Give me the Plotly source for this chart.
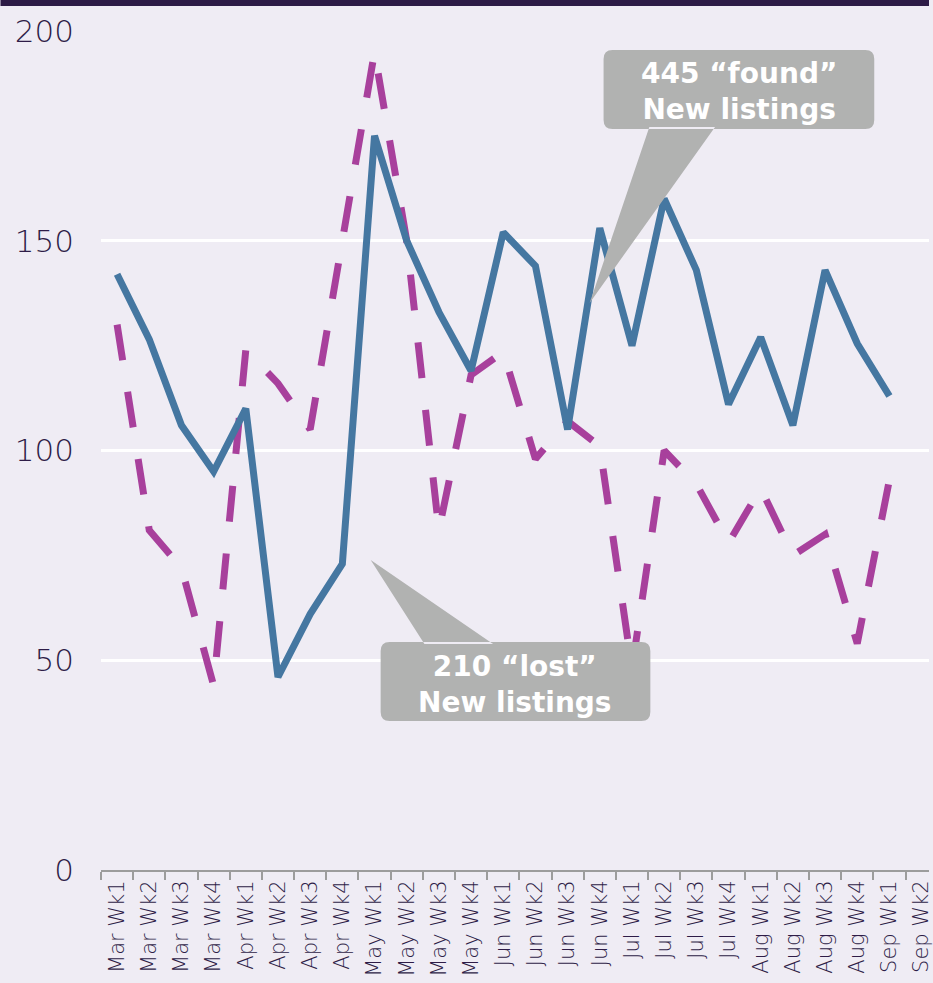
import plotly.graph_objects as go


weeks = ["Mar Wk1", "Mar Wk2", "Mar Wk3", "Mar Wk4",
         "Apr Wk1", "Apr Wk2", "Apr Wk3", "Apr Wk4",
         "May Wk1", "May Wk2", "May Wk3", "May Wk4",
         "Jun Wk1", "Jun Wk2", "Jun Wk3", "Jun Wk4",
         "Jul Wk1", "Jul Wk2", "Jul Wk3", "Jul Wk4",
         "Aug Wk1", "Aug Wk2", "Aug Wk3", "Aug Wk4",
         "Sep Wk1", "Sep Wk2"]

# solid blue series
found_listings = [142, 126.5, 106, 95, 110, 46, 61, 73,
                  175, 150, 133, 119, 152, 144, 105, 153,
                  125, 160, 143, 111, 127, 106, 143, 125.5,
                  113, None]

# dashed magenta series
lost_listings = [130, 81, 72, 44, 124, 116, 105, 150,
                 195, 150, 81, 118, 123.5, 98, 107, 101,
                 48, 100, 92, 78, 91, 75, 80, 54,
                 93, None]

y_ticks = [0, 50, 100, 150, 200]

callout_found = "445 \u201cfound\u201d<br>New listings"
callout_lost = "210 \u201clost\u201d<br>New listings"


W, H = 933, 983
M_L, M_R, M_T, M_B = 101, 0, 31, 113
PLOT_W = W - M_L - M_R
PLOT_H = H - M_T - M_B

TEXT = "#2e1c47"
BLUE = "#4577a1"
MAGENTA = "#a8409c"
CALLOUT = "#b1b2b1"
BG = "#efecf4"
FONT = "DejaVu Sans"


# pixel -> paper coordinates (only used for the decoration shapes)
def px(x):
    return (x - M_L) / PLOT_W


def py(y):
    return (H - M_B - y) / PLOT_H


# rounded box with a pointer triangle on one side
def callout_path(x0, y0, x1, y1, tip, base_a, base_b, r=9):
    pts = []
    pts.append(f"M {px(x0 + r)},{py(y0)}")
    pts.append(f"L {px(x1 - r)},{py(y0)}")
    pts.append(f"Q {px(x1)},{py(y0)} {px(x1)},{py(y0 + r)}")
    pts.append(f"L {px(x1)},{py(y1 - r)}")
    pts.append(f"Q {px(x1)},{py(y1)} {px(x1 - r)},{py(y1)}")
    pts.append(f"L {px(x0 + r)},{py(y1)}")
    pts.append(f"Q {px(x0)},{py(y1)} {px(x0)},{py(y1 - r)}")
    pts.append(f"L {px(x0)},{py(y0 + r)}")
    pts.append(f"Q {px(x0)},{py(y0)} {px(x0 + r)},{py(y0)}")
    pts.append("Z")
    # pointer
    pts.append(f"M {px(base_a[0])},{py(base_a[1])}")
    pts.append(f"L {px(tip[0])},{py(tip[1])}")
    pts.append(f"L {px(base_b[0])},{py(base_b[1])}")
    pts.append("Z")
    return " ".join(pts)


fig = go.Figure()

fig.add_trace(go.Scatter(x=weeks, y=lost_listings, mode="lines",
                         name="Lost",
                         line=dict(color=MAGENTA, width=7, dash="36px,32px")))
fig.add_trace(go.Scatter(x=weeks, y=found_listings, mode="lines",
                         name="Found",
                         line=dict(color=BLUE, width=7)))

shapes = [
    # dark band along the top
    dict(type="rect", xref="paper", yref="paper",
         x0=px(0), x1=px(W), y0=py(6), y1=py(-2),
         fillcolor="#2d1b46", line_width=0, layer="above"),
    dict(type="path", xref="paper", yref="paper",
         path=callout_path(606, 50, 878, 129, tip=(592, 303),
                           base_a=(652, 127), base_b=(718, 127)),
         fillcolor=CALLOUT, line_width=0, layer="above"),
    dict(type="path", xref="paper", yref="paper",
         path=callout_path(382, 642, 653, 721, tip=(372, 560),
                           base_a=(426, 644), base_b=(495, 644)),
         fillcolor=CALLOUT, line_width=0, layer="above"),
]

annotations = [
    dict(text=callout_found, xref="paper", yref="paper",
         x=px(742), y=py(91), xanchor="center", yanchor="middle",
         showarrow=False, align="center",
         font=dict(family=FONT, size=28, color="white", weight="bold")),
    dict(text=callout_lost, xref="paper", yref="paper",
         x=px(517), y=py(684), xanchor="center", yanchor="middle",
         showarrow=False, align="center",
         font=dict(family=FONT, size=28, color="white", weight="bold")),
]

fig.update_layout(
    width=W, height=H,
    margin=dict(l=M_L, r=M_R, t=M_T, b=M_B, pad=0),
    paper_bgcolor=BG, plot_bgcolor=BG,
    showlegend=False,
    shapes=shapes,
    annotations=annotations,
    font=dict(family=FONT, color=TEXT),
)

fig.update_xaxes(
    type="category",
    categoryorder="array", categoryarray=weeks,
    range=[-0.5, 25.23],
    showgrid=False,
    showline=True, linecolor="#9c9c9c", linewidth=2,
    ticks="outside", tickson="boundaries", ticklen=8,
    tickcolor="#9c9c9c", tickwidth=1.5,
    tickangle=-90,
    tickfont=dict(family=FONT, size=21, color=TEXT, weight=300),
    zeroline=False,
)

fig.update_yaxes(
    range=[0, 200],
    tickvals=y_ticks,
    showgrid=True, gridcolor="white", gridwidth=2.5,
    showline=False, zeroline=False,
    ticks="", ticklabelstandoff=26,
    tickfont=dict(family=FONT, size=31, color=TEXT, weight=300),
)

# drop the default page margin so the figure sits at the window corner
fig.write_html("out.html",
               config={"displayModeBar": False},
               post_script="document.body.style.margin='0';"
                           "document.body.style.background='%s';" % BG)
